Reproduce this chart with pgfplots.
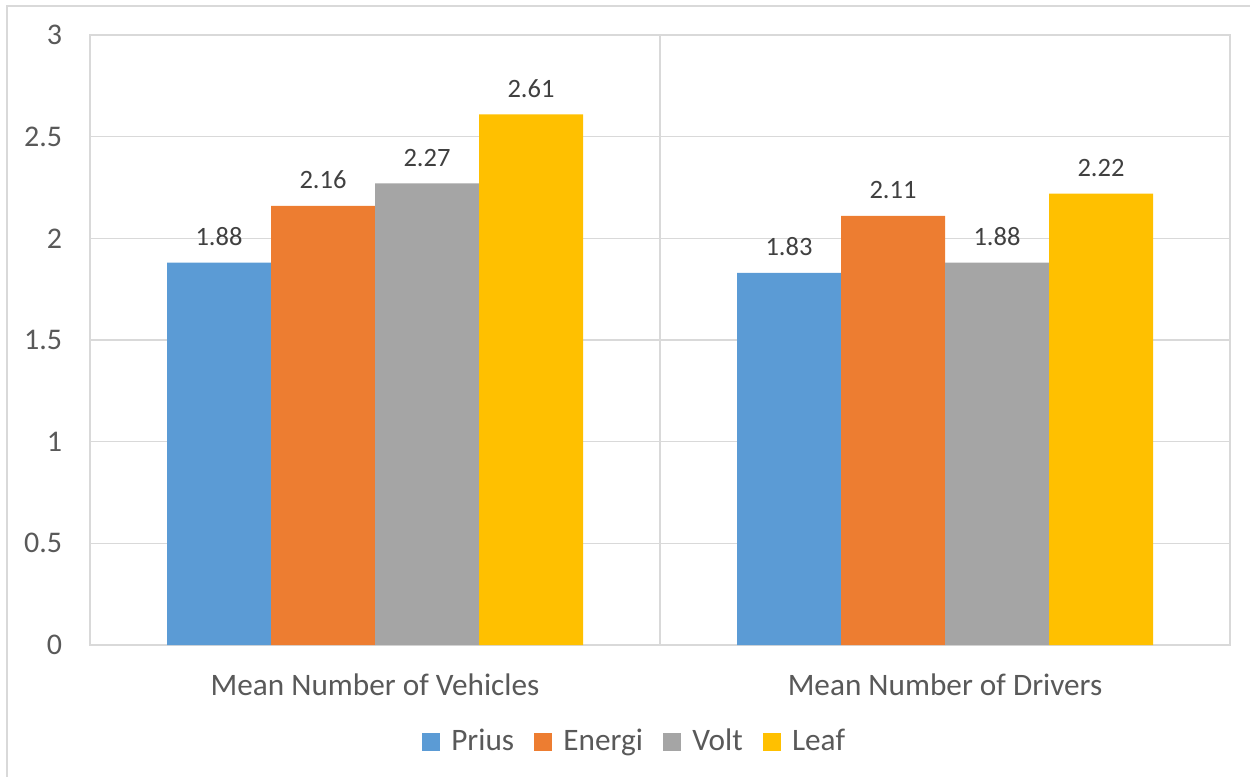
\documentclass[border=0pt]{standalone}
\usepackage{fontspec}
\setmainfont{Carlito}
\usepackage{pgfplots}
\pgfplotsset{compat=1.18}
\definecolor{cPrius}{HTML}{5B9BD5}
\definecolor{cEnergi}{HTML}{ED7D31}
\definecolor{cVolt}{HTML}{A5A5A5}
\definecolor{cLeaf}{HTML}{FFC000}
\definecolor{txt}{HTML}{595959}
\definecolor{lbl}{HTML}{404040}
\definecolor{gridc}{HTML}{D9D9D9}
\pgfplotsset{
  sq/.style={legend image code/.code={\fill[##1] (0pt,-3.6pt) rectangle (7.2pt,3.6pt);}},
}
\begin{document}
\begin{tikzpicture}
\path[use as bounding box] (-36pt,-52.4pt) rectangle (464pt,258pt);
\draw[gridc, line width=0.8pt] (-33.2pt,-60pt) -- (-33.2pt,255.6pt) -- (470pt,255.6pt);
\begin{axis}[
  at={(0,0)}, anchor=south west,
  scale only axis, width=456pt, height=244pt,
  ybar=0pt, bar width=41.6pt,
  xmin=-0.5, xmax=1.5, ymin=0, ymax=3,
  xtick={0,1}, xticklabels={Mean Number of Vehicles, Mean Number of Drivers},
  extra x ticks={0.5}, extra x tick labels={},
  extra x tick style={xmajorgrids=true, major tick length=0pt},
  ytick={0,0.5,1,1.5,2,2.5,3},
  ymajorgrids, grid style={gridc, line width=0.6pt},
  axis line style={gridc, line width=0.6pt},
  major tick length=0pt,
  tick label style={font=\fontsize{12}{14}\selectfont, text=txt},
  x tick label style={anchor=base, yshift=-20pt, font=\fontsize{12.5}{14}\selectfont},
  y tick label style={xshift=-7.6pt},
  /pgf/number format/assume math mode=true,
  yticklabel={\pgfmathprintnumber[fixed]{\tick}},
  nodes near coords={\pgfmathprintnumber[fixed,fixed zerofill,precision=2,assume math mode=true]{\pgfplotspointmeta}},
  nodes near coords style={font=\fontsize{10.6}{12}\selectfont, text=lbl, anchor=base, yshift=6.8pt, inner sep=0pt},
  legend columns=4,
  legend style={draw=none, at={(0.479,-0.1586)}, anchor=center,
    font=\fontsize{12.5}{14}\selectfont, text=txt,
    /tikz/every odd column/.append style={column sep=2.5pt},
    /tikz/every even column/.append style={column sep=6pt}},
]
\addplot[fill=cPrius, draw=none, sq] coordinates {(0,1.88) (1,1.83)};
\addplot[fill=cEnergi, draw=none, sq] coordinates {(0,2.16) (1,2.11)};
\addplot[fill=cVolt, draw=none, sq] coordinates {(0,2.27) (1,1.88)};
\addplot[fill=cLeaf, draw=none, sq] coordinates {(0,2.61) (1,2.22)};
\legend{Prius, Energi, Volt, Leaf}
\end{axis}
\end{tikzpicture}
\end{document}
